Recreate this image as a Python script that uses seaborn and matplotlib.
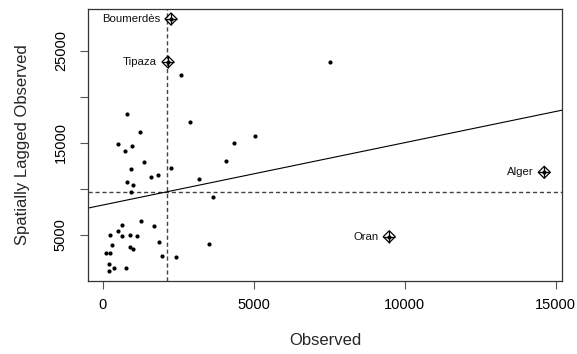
import numpy as np
import pandas as pd
import matplotlib
matplotlib.use("Agg")
import matplotlib.pyplot as plt
import seaborn as sns

# ---- data ----
observed = [7536, 2609, 788, 2891, 1245, 5033, 4337, 497, 970, 738, 4073, 1361,
            927, 2245, 1609, 1824, 3188, 815, 993, 927, 3662, 1258, 639, 1708,
            507, 252, 629, 911, 1146, 315, 897, 1010, 1854, 3536, 99, 235, 1957,
            2417, 199, 364, 762, 219]
lagged = [23805, 22414, 18186, 17283, 16196, 15729, 14968, 14859, 14675, 14131,
          13077, 12914, 12174, 12316, 11305, 11522, 11120, 10761, 10403, 9620,
          9163, 6576, 6087, 5957, 5468, 5033, 4892, 5000, 4837, 3913, 3728, 3446,
          4272, 4022, 3011, 3076, 2750, 2576, 1881, 1435, 1446, 1054]
infl_names = ["Boumerdès", "Tipaza", "Alger", "Oran"]
infl_observed = [2261, 2162, 14621, 9489]
infl_lagged = [28480, 23805, 11816, 4815]

x_ticks = [0, 5000, 10000, 15000]
y_ticks = [5000, 10000, 15000, 20000, 25000]
y_tick_labels = ["5000", "", "15000", "", "25000"]
x_label = "Observed"
y_label = "Spatially Lagged Observed"

sns.set_style("white")
plt.rcParams["font.family"] = ["Liberation Sans", "DejaVu Sans"]

df = pd.DataFrame({"x": observed + infl_observed, "wx": lagged + infl_lagged})
dfi = pd.DataFrame({"x": infl_observed, "wx": infl_lagged, "name": infl_names})

fig = plt.figure(figsize=(5.77, 3.54), dpi=100)
ax = fig.add_axes([88 / 577, 1 - 281 / 354, (562 - 88) / 577, (281 - 9) / 354])

# regression line lm(wx ~ x)
slope, intercept = np.polyfit(df["x"], df["wx"], 1)
ax.axline((0, intercept), slope=slope, color="black", lw=0.8, zorder=2)
ax.axvline(df["x"].mean(), color="#444444", lw=1.0, dashes=(3, 2), zorder=1)
ax.axhline(df["wx"].mean(), color="#444444", lw=1.0, dashes=(3, 2), zorder=1)

sns.scatterplot(data=df, x="x", y="wx", ax=ax, color="black", s=9,
                linewidth=0, zorder=3, legend=False)
sns.scatterplot(data=dfi, x="x", y="wx", ax=ax, marker="D", s=6.1 ** 2,
                facecolor="none", edgecolor="black", linewidth=0.9, zorder=4,
                legend=False)
sns.scatterplot(data=dfi, x="x", y="wx", ax=ax, marker="+", s=8.6 ** 2,
                color="black", linewidth=0.9, zorder=4, legend=False)
for _, r in dfi.iterrows():
    ax.annotate(r["name"], (r["x"], r["wx"]), xytext=(-8, 0),
                textcoords="offset points", ha="right", va="center",
                fontsize=8.2, color="#111111")

ax.set_xlim(-487, 15209)
ax.set_ylim(0, 29565)
ax.set_xticks(x_ticks)
ax.set_xticklabels([str(v) for v in x_ticks])
ax.set_yticks(y_ticks)
ax.set_yticklabels(y_tick_labels, rotation=90, va="center")
ax.tick_params(axis="both", direction="out", length=5.5, width=0.8,
               color="#555555", labelsize=10.5, labelcolor="black", left=True,
               bottom=True)
ax.tick_params(axis="x", pad=7)
ax.tick_params(axis="y", pad=9)
for sp in ax.spines.values():
    sp.set_visible(True)
    sp.set_color("#333333")
    sp.set_linewidth(0.9)

ax.set_xlabel(x_label, fontsize=12, labelpad=15)
ax.set_ylabel(y_label, fontsize=12, labelpad=17)

fig.savefig("out.png", dpi=100)
